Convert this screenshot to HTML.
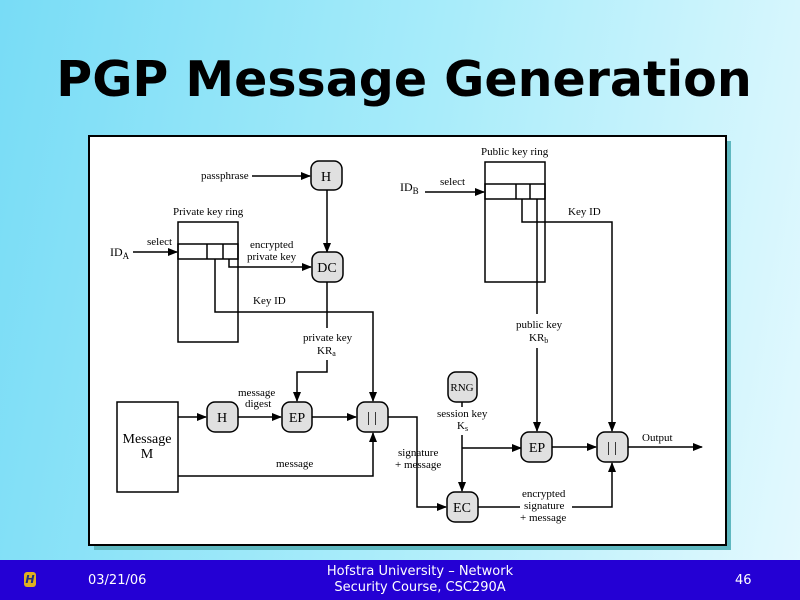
<!DOCTYPE html>
<html><head><meta charset="utf-8"><style>
html,body{margin:0;padding:0;width:800px;height:600px;overflow:hidden}
body{background:linear-gradient(100deg,#78dcf6 0%,#a8ecfa 50%,#e4f9fe 100%);position:relative;font-family:"DejaVu Sans",sans-serif}
.title{position:absolute;left:0;width:808px;top:52px;text-align:center;font-weight:bold;font-size:49px;color:#000;line-height:56px}
.footer{position:absolute;left:0;top:560px;width:800px;height:40px;background:#2400d4;color:#fff;font-size:13px}
</style></head><body>
<div class="title">PGP Message Generation</div>
<svg style="position:absolute;left:0;top:0" width="800" height="600" font-family="Liberation Serif,serif" font-size="11">
<defs><marker id="a" markerWidth="10" markerHeight="8" refX="9" refY="4" orient="auto" markerUnits="userSpaceOnUse"><path d="M0,0L10,4L0,8z" fill="#000"/></marker></defs>
<rect x="94" y="141" width="637" height="409" fill="#5fb8c0"/>
<rect x="89" y="136" width="637" height="409" fill="#fff" stroke="#000" stroke-width="2"/>
<g fill="none" stroke="#000" stroke-width="1.5">
<rect x="178" y="222" width="60" height="120"/><rect x="178" y="244" width="60" height="15"/><line x1="207" y1="244" x2="207" y2="259"/><line x1="223" y1="244" x2="223" y2="259"/>
<rect x="485" y="162" width="60" height="120"/><rect x="485" y="184" width="60" height="15"/><line x1="516" y1="184" x2="516" y2="199"/><line x1="530" y1="184" x2="530" y2="199"/>
<rect x="117" y="402" width="61" height="90"/>
<path d="M252,176H310" marker-end="url(#a)"/>
<path d="M327,190V252" marker-end="url(#a)"/>
<path d="M133,252H177" marker-end="url(#a)"/>
<path d="M229,259V267H311" marker-end="url(#a)"/>
<path d="M215,259V312H373V401" marker-end="url(#a)"/>
<path d="M327,282V328M327,360V372H297V401" marker-end="url(#a)"/>
<path d="M178,417H206" marker-end="url(#a)"/>
<path d="M238,417H281" marker-end="url(#a)"/>
<path d="M312,417H356" marker-end="url(#a)"/>
<path d="M178,476H373V433" marker-end="url(#a)"/>
<path d="M388,417H417V507H446" marker-end="url(#a)"/>
<path d="M462,402V407M462,435V491" marker-end="url(#a)"/>
<path d="M462,448H521" marker-end="url(#a)"/>
<path d="M552,447H596" marker-end="url(#a)"/>
<path d="M628,447H702" marker-end="url(#a)"/>
<path d="M478,507H520M572,507H612V463" marker-end="url(#a)"/>
<path d="M425,192H484" marker-end="url(#a)"/>
<path d="M537,199V314M537,348V431" marker-end="url(#a)"/>
<path d="M522,199V222H612V431" marker-end="url(#a)"/>
</g>
<g fill="#e0e0e0" stroke="#000" stroke-width="1.5">
<rect x="311" y="161" width="31" height="29" rx="8"/>
<rect x="312" y="252" width="31" height="30" rx="8"/>
<rect x="207" y="402" width="31" height="30" rx="8"/>
<rect x="282" y="402" width="30" height="30" rx="8"/>
<rect x="357" y="402" width="31" height="30" rx="8"/>
<rect x="448" y="372" width="29" height="30" rx="8"/>
<rect x="521" y="432" width="31" height="30" rx="8"/>
<rect x="597" y="432" width="31" height="30" rx="8"/>
<rect x="447" y="492" width="31" height="30" rx="8"/>
</g>
<g font-size="14" text-anchor="middle">
<text x="326" y="181">H</text><text x="327" y="272">DC</text><text x="222" y="422">H</text><text x="297" y="422">EP</text>
<text x="372" y="422" font-size="15">| |</text><text x="462" y="391" font-size="11">RNG</text><text x="537" y="452">EP</text><text x="612" y="452" font-size="15">| |</text><text x="462" y="512">EC</text>
<text x="147" y="443">Message</text><text x="147" y="458">M</text>
</g>
<g>
<text x="201" y="179">passphrase</text>
<text x="173" y="215">Private key ring</text>
<text x="147" y="245">select</text>
<text x="110" y="256" font-size="12">ID<tspan font-size="9" dy="3">A</tspan></text>
<text x="250" y="248">encrypted</text><text x="247" y="260">private key</text>
<text x="253" y="304">Key ID</text>
<text x="303" y="341">private key</text><text x="317" y="354">KR<tspan font-size="8" dy="2">a</tspan></text>
<text x="238" y="396">message</text><text x="245" y="407">digest</text>
<text x="276" y="467">message</text>
<text x="398" y="456">signature</text><text x="395" y="468">+ message</text>
<text x="437" y="417">session key</text><text x="457" y="429">K<tspan font-size="8" dy="2">s</tspan></text>
<text x="522" y="497">encrypted</text><text x="524" y="509">signature</text><text x="520" y="521">+ message</text>
<text x="642" y="441">Output</text>
<text x="481" y="155">Public key ring</text>
<text x="440" y="185">select</text>
<text x="400" y="191" font-size="12">ID<tspan font-size="9" dy="3">B</tspan></text>
<text x="568" y="215">Key ID</text>
<text x="516" y="328">public key</text><text x="529" y="341">KR<tspan font-size="8" dy="2">b</tspan></text>
</g>
</svg>
<div class="footer">
<div style="position:absolute;left:24px;top:12px;width:12px;height:15px;background:#e0b020;border-radius:3px;color:#203080;font-size:11px;font-weight:bold;text-align:center;line-height:15px;font-style:italic">H</div>
<div style="position:absolute;left:88px;top:13px">03/21/06</div>
<div style="position:absolute;left:300px;width:240px;top:4px;text-align:center;line-height:16px">Hofstra University – Network<br>Security Course, CSC290A</div>
<div style="position:absolute;left:735px;top:13px">46</div>
</div>
</body></html>
